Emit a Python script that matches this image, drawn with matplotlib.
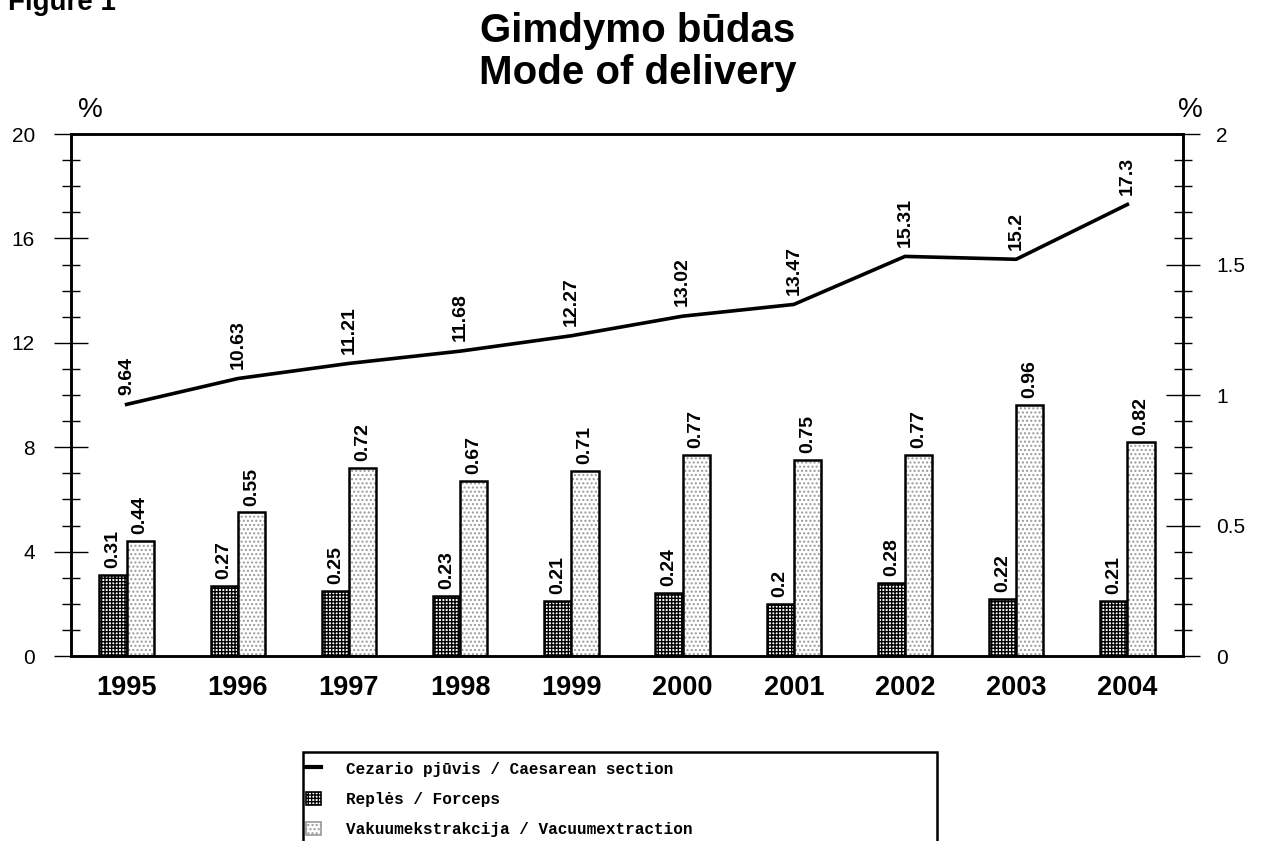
import matplotlib.pyplot as plt
from matplotlib.patches import Rectangle
from matplotlib.lines import Line2D
from matplotlib.ticker import MultipleLocator
import numpy as np

years = ['1995', '1996', '1997', '1998', '1999', '2000', '2001', '2002', '2003', '2004']
caesarean = [9.64, 10.63, 11.21, 11.68, 12.27, 13.02, 13.47, 15.31, 15.2, 17.3]
forceps = [0.31, 0.27, 0.25, 0.23, 0.21, 0.24, 0.2, 0.28, 0.22, 0.21]
vacuum = [0.44, 0.55, 0.72, 0.67, 0.71, 0.77, 0.75, 0.77, 0.96, 0.82]

labels = ['Cezario pjūvis / Caesarean section',
          'Replės / Forceps',
          'Vakuumekstrakcija / Vacuumextraction']

plt.rcParams['font.family'] = ['Liberation Sans', 'DejaVu Sans']
plt.rcParams['hatch.linewidth'] = 1.0

fig = plt.figure(figsize=(12.63, 8.41), dpi=100)
ax = fig.add_axes([71 / 1263, 1 - 656 / 841, 1112 / 1263, 522 / 841])
ax2 = ax.twinx()
ax.set_zorder(ax2.get_zorder() + 1)
ax.patch.set_visible(False)

x = np.arange(len(years))
w = 0.245

# bars on the right axis (0-2 %)
ax2.bar(x - w / 2, forceps, w, color='white', edgecolor='black', hatch='+++++', linewidth=0)
ax2.bar(x - w / 2, forceps, w, color='none', edgecolor='black', linewidth=1.8)
ax2.bar(x + w / 2, vacuum, w, color='white', edgecolor='#9a9a9a', hatch='....', linewidth=0)
ax2.bar(x + w / 2, vacuum, w, color='none', edgecolor='black', linewidth=1.8)

for i in range(len(years)):
    ax2.annotate(f'{forceps[i]:g}', (x[i] - w / 2, forceps[i]), xytext=(0, 5),
                 textcoords='offset points', rotation=90, ha='center', va='bottom',
                 fontsize=14, fontweight='bold')
    ax2.annotate(f'{vacuum[i]:g}', (x[i] + w / 2, vacuum[i]), xytext=(0, 5),
                 textcoords='offset points', rotation=90, ha='center', va='bottom',
                 fontsize=14, fontweight='bold')

# caesarean line on the left axis (0-20 %)
ax.plot(x, caesarean, color='black', linewidth=2.6)
for i in range(len(years)):
    ax.annotate(f'{caesarean[i]:g}', (x[i], caesarean[i]), xytext=(0, 7),
                textcoords='offset points', rotation=90, ha='center', va='bottom',
                fontsize=14, fontweight='bold')

ax.set_xlim(-0.5, len(years) - 0.5)
ax.set_ylim(0, 20)
ax2.set_ylim(0, 2)
ax.yaxis.set_major_locator(MultipleLocator(4))
ax.yaxis.set_minor_locator(MultipleLocator(1))
ax2.set_yticks([0, 0.5, 1, 1.5, 2])
ax2.set_yticklabels(['0', '0.5', '1', '1.5', '2'])
ax2.yaxis.set_minor_locator(MultipleLocator(0.1))

for a in (ax, ax2):
    for s in a.spines.values():
        s.set_linewidth(1.8)
    a.tick_params(axis='y', which='major', direction='inout', length=24, width=1.0,
                  labelsize=15)
    a.tick_params(axis='y', which='minor', direction='inout', length=13, width=1.0)
ax.tick_params(axis='y', which='major', pad=14)
ax2.tick_params(axis='y', which='major', pad=12)

ax.set_xticks(x)
ax.set_xticklabels(years, fontsize=19.5, fontweight='bold')
ax.tick_params(axis='x', length=0, pad=14)

fig.text(90 / 1263, 1 - 110 / 841, '%', fontsize=20, ha='center', va='center')
fig.text(1190 / 1263, 1 - 110 / 841, '%', fontsize=20, ha='center', va='center')

fig.text(638 / 1263, 1 - 42 / 841, 'Gimdymo būdas', fontsize=29,
         fontweight='bold', ha='center', va='baseline')
fig.text(638 / 1263, 1 - 84 / 841, 'Mode of delivery', fontsize=29,
         fontweight='bold', ha='center', va='baseline')
fig.text(8 / 1263, 1 - 10 / 841, 'Figure 1', fontsize=20, fontweight='bold',
         ha='left', va='baseline')

# legend
handles = [Line2D([], [], color='black', linewidth=3),
           Rectangle((0, 0), 1, 1, facecolor='white', edgecolor='black', hatch='+++++', linewidth=1.2),
           Rectangle((0, 0), 1, 1, facecolor='white', edgecolor='#9a9a9a', hatch='....', linewidth=1.2)]
leg = fig.legend(handles, labels, loc='upper left',
                 bbox_to_anchor=(300 / 1263, 1 - 755 / 841), frameon=False,
                 prop={'family': 'Liberation Mono', 'weight': 'bold', 'size': 11.5},
                 handlelength=0.9, handleheight=0.9, handletextpad=1.6, labelspacing=0.95,
                 borderaxespad=0)
fig.patches.append(Rectangle((303 / 1263, -0.05), 634 / 1263, 0.05 + 1 - 752 / 841,
                             transform=fig.transFigure, fill=False, edgecolor='black',
                             linewidth=1.8))

fig.savefig('out.png', dpi=100)
